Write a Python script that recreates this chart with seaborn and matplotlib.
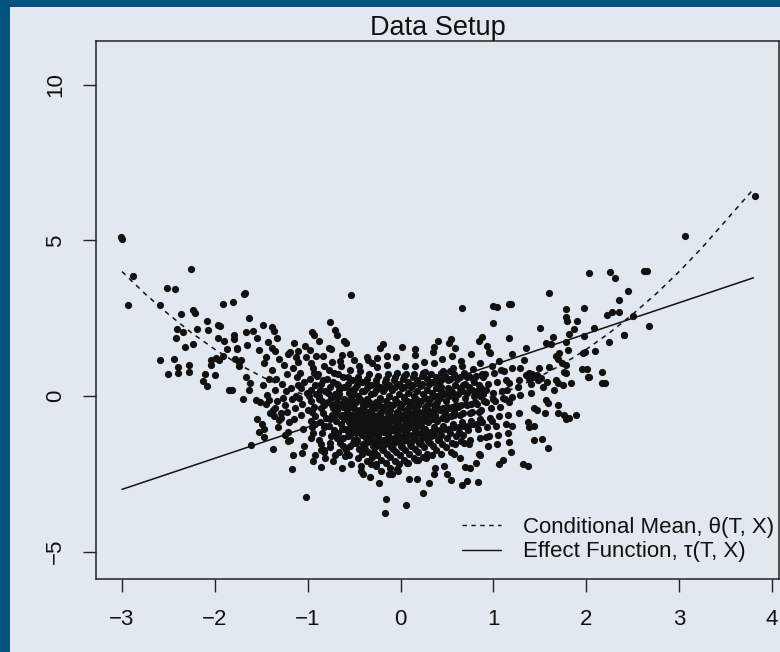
import matplotlib
matplotlib.use("Agg")
import matplotlib.pyplot as plt
from matplotlib.lines import Line2D
from matplotlib.patches import Rectangle
import seaborn as sns
import pandas as pd

# ---------------- data ----------------
left_tail = [
    (-3.01, 5.10), (-3.00, 5.06), (-2.88, 3.86), (-2.94, 2.92), (-2.26, 4.07), (-2.52, 3.47),
    (-2.43, 3.43), (-2.59, 2.92), (-2.37, 2.63), (-2.24, 2.76), (-2.21, 2.66), (-2.41, 2.15),
    (-2.34, 2.05), (-2.42, 1.86), (-2.19, 2.15), (-2.09, 2.42), (-2.07, 2.13), (-1.97, 2.29),
    (-1.95, 2.25), (-2.32, 1.59), (-2.24, 1.66), (-1.97, 1.86), (-1.90, 1.76), (-1.91, 2.97),
    (-1.80, 3.02), (-1.79, 1.96), (-1.79, 1.83), (-1.87, 1.50), (-1.76, 1.50), (-2.59, 1.17),
    (-2.44, 1.20), (-2.40, 0.92), (-2.40, 0.73), (-2.51, 0.72), (-2.28, 0.99), (-2.28, 0.76),
    (-2.04, 1.16), (-2.04, 1.00), (-1.99, 1.22), (-1.96, 1.16), (-1.91, 1.30), (-2.11, 0.70),
    (-2.00, 0.68), (-2.13, 0.48), (-2.08, 0.33), (-1.85, 0.20), (-1.82, 0.20), (-1.78, 1.18),
    (-1.74, 1.10), (-1.69, 3.28),
]

upper_left = [
    (-1.68, 3.30), (-0.53, 3.25), (-1.63, 2.52), (-1.66, 2.07), (-1.59, 2.10), (-1.48, 2.28),
    (-1.38, 2.21), (-1.36, 2.09), (-1.55, 1.85), (-1.65, 1.64), (-1.76, 1.53), (-1.72, 1.16),
    (-1.74, 0.97), (-1.43, 1.75), (-1.33, 1.85), (-1.52, 1.48), (-1.35, 1.45), (-1.45, 1.26),
    (-1.15, 1.69), (-1.19, 1.42), (-1.11, 1.45), (-1.13, 1.26), (-0.98, 1.48), (-0.88, 1.78),
    (-0.77, 1.53), (-0.95, 2.07), (-0.93, 1.96), (-0.76, 2.37), (-0.71, 2.12), (-0.68, 1.96),
    (-0.61, 1.78), (-0.59, 1.71), (-0.63, 1.32), (-0.50, 1.16), (-0.36, 1.24), (-0.31, 1.05),
]

lower_left = [
    (-1.55, -0.75), (-1.53, -1.17), (-1.47, -1.06), (-1.47, -1.31), (-1.61, -1.58), (-1.37, -1.70),
    (-1.21, -1.44), (-1.17, -2.33), (-1.06, -1.84), (-1.02, -3.24), (-0.86, -2.27), (-0.92, -1.90),
    (-0.86, -1.74), (-0.82, -1.79), (-0.71, -1.90), (-0.60, -1.93), (-0.40, -2.49), (-0.43, -2.25),
    (-1.70, -0.10), (-1.63, 0.19), (-1.62, 0.41), (-1.67, 0.62), (-1.56, -0.13), (-1.51, -0.18),
    (-1.42, -0.13), (-1.35, -0.40), (-1.31, -0.77), (-1.29, -0.72), (-1.21, -1.15), (-1.22, -0.50),
]

mid_edges = [
    (0.66, 2.84), (1.00, 2.89), (1.04, 2.85), (0.99, 2.34), (1.17, 2.95),
    (-0.19, 1.67), (-0.22, 1.53), (0.01, 1.58), (0.16, 1.50), (0.36, 1.58), (0.40, 1.78),
    (0.54, 1.82), (0.52, 1.71), (0.59, 1.53), (0.84, 1.78), (0.88, 1.89), (0.93, 1.61), (0.95, 1.42),
    (-0.16, -3.32), (-0.17, -3.77), (0.06, -3.50), (0.24, -3.13), (0.31, -2.79), (0.09, -2.68),
    (0.18, -2.68), (0.54, -2.70), (0.66, -2.86), (0.72, -2.72), (0.83, -2.75), (1.06, -2.19),
    (1.10, -2.06), (0.92, -1.31), (0.81, -2.16), (0.69, -2.27), (0.36, -2.49), (0.50, -2.49),
    (-0.26, -2.25), (-0.09, -2.49), (-0.04, -2.33),
]

right_tail = [
    (2.03, 3.94), (2.26, 4.00), (2.31, 3.78), (2.62, 4.03), (2.45, 3.39), (1.60, 3.30), (1.19, 2.95),
    (2.35, 3.09), (2.28, 2.71), (2.35, 2.71), (2.22, 2.60), (2.50, 2.58),
    (1.78, 2.80), (1.98, 2.84), (1.78, 2.55), (1.79, 2.42), (1.90, 2.42), (1.87, 2.15), (1.81, 1.99),
    (2.08, 2.18), (1.98, 1.93), (1.78, 1.75), (1.50, 2.20), (1.17, 1.87), (1.64, 1.89), (1.57, 1.71),
    (1.62, 1.67), (1.35, 1.53), (1.20, 1.35), (2.41, 1.96), (2.24, 1.73), (2.09, 1.45), (1.99, 1.42),
    (1.96, 1.37), (1.67, 1.29), (1.71, 1.39), (1.69, 1.18), (1.80, 1.48), (1.74, 1.05), (1.78, 1.00),
    (1.76, 0.78), (1.78, 0.73), (1.83, 0.41), (1.75, 0.35), (1.67, 0.51), (1.69, 0.43), (1.65, 0.19),
    (1.95, 0.86), (2.01, 0.86), (2.03, 0.62), (2.17, 0.78), (2.17, 0.41), (2.20, 0.43),
    (1.57, -0.13), (1.59, -0.21), (1.69, -0.29), (1.70, -0.56), (1.76, -0.61), (1.78, -0.75),
    (1.81, -0.72), (1.89, -0.61), (1.55, -0.54), (1.44, -0.40), (1.47, -0.45), (1.28, -0.56),
    (1.37, -0.82), (1.38, -0.99), (1.44, -0.96), (1.20, -0.96), (1.16, -1.20), (1.17, -1.47),
    (1.19, -1.79), (1.44, -1.41), (1.52, -1.38), (1.59, -1.68), (1.32, -2.19), (1.37, -2.25),
    (1.38, 0.55), (1.42, 0.70), (1.45, 0.62), (1.48, 0.50), (1.40, 0.40), (1.35, 0.68),
    (1.33, 1.16), (1.29, 0.89), (1.20, 0.89), (1.38, 0.73), (1.42, 0.62), (1.47, 0.68), (1.51, 0.57),
    (1.27, 0.51), (1.26, 0.30), (1.17, 0.41), (1.20, -0.02), (1.17, -0.18), (1.29, 0.03), (1.40, 0.09),
    (1.53, 0.30), (1.60, 0.94), (1.49, 0.89), (1.58, 0.46),
    (3.82, 6.43), (3.06, 5.14), (2.65, 4.02), (2.68, 2.25), (2.41, 1.96), (2.02, 0.60),
]

core_left = [
    (-1.48, 0.35), (-1.45, -0.25), (-1.42, 0.55), (-1.47, 1.05), (-1.41, -0.55), (-1.44, 0.02), (-1.49, -0.9),
    (-1.38, 0.85), (-1.35, 0.2), (-1.33, -0.15), (-1.31, 1.2), (-1.37, -0.45), (-1.34, 0.55), (-1.32, -1.0),
    (-1.39, 1.55), (-1.36, -0.65), (-1.28, 0.4), (-1.26, 1.0), (-1.24, -0.3), (-1.22, 0.7), (-1.27, -0.05),
    (-1.21, 1.35), (-1.25, -1.25), (-1.23, 0.15), (-1.29, -0.55), (-1.2, -0.85), (-1.18, 0.25), (-1.16, 0.9),
    (-1.14, -0.4), (-1.12, 0.6), (-1.17, -0.1), (-1.11, 1.1), (-1.15, -0.75), (-1.13, 0.0), (-1.19, -1.4),
    (-1.1, 0.35), (-1.16, -1.9), (-1.08, 0.75), (-1.06, -0.25), (-1.04, 0.45), (-1.02, 1.25), (-1.07, -0.6),
    (-1.01, 0.1), (-1.05, -1.05), (-1.03, 1.6), (-1.09, -0.05), (-1.0, -0.45), (-1.04, -1.6), (-1.07, 0.25),
    (-0.98, 0.55), (-0.96, -0.15), (-0.94, 0.9), (-0.92, -0.65), (-0.97, 0.2), (-0.91, 1.3), (-0.95, -1.0),
    (-0.93, -0.35), (-0.99, 0.0), (-0.9, 0.65), (-0.96, -1.35), (-0.92, -0.9), (-0.94, -2.1), (-0.97, 1.05),
    (-0.88, -0.1), (-0.86, 0.4), (-0.84, -0.55), (-0.82, 0.95), (-0.87, -0.85), (-0.81, 0.15), (-0.85, -1.2),
    (-0.83, -0.3), (-0.89, 0.7), (-0.8, -0.7), (-0.86, -1.55), (-0.84, 1.3), (-0.82, -1.0), (-0.88, 0.0),
    (-0.81, -2.0), (-0.78, -0.2), (-0.76, 0.3), (-0.74, -0.6), (-0.72, 0.75), (-0.77, -0.95), (-0.71, 0.05),
    (-0.75, -1.3), (-0.73, -0.4), (-0.79, 0.55), (-0.7, -0.8), (-0.76, -1.65), (-0.74, 1.1), (-0.72, -1.1),
    (-0.78, 0.1), (-0.71, -0.25), (-0.75, 1.5), (-0.73, -2.1),
]

core_mid = [
    (-0.68, -0.45), (-0.66, 0.2), (-0.64, -0.9), (-0.62, 0.6), (-0.67, -1.2), (-0.61, -0.1), (-0.65, -1.5),
    (-0.63, -0.6), (-0.69, 0.4), (-0.6, -0.3), (-0.66, -1.8), (-0.64, 0.95), (-0.62, -1.35), (-0.68, -0.05),
    (-0.61, -0.75), (-0.65, 1.12), (-0.63, -2.3), (-0.67, 0.7), (-0.6, -1.05),
    (-0.58, -0.5), (-0.56, 0.1), (-0.54, -1.0), (-0.52, 0.5), (-0.57, -1.3), (-0.51, -0.2), (-0.55, -1.6),
    (-0.53, -0.7), (-0.59, 0.3), (-0.5, -0.4), (-0.56, -1.9), (-0.54, 0.85), (-0.52, -1.15), (-0.58, -0.15),
    (-0.51, -0.85), (-0.55, 1.35), (-0.53, -2.2), (-0.57, 0.6), (-0.5, -1.4), (-0.56, -0.6), (-0.52, 0.2),
    (-0.48, -0.6), (-0.46, 0.0), (-0.44, -1.1), (-0.42, 0.45), (-0.47, -1.4), (-0.41, -0.3), (-0.45, -1.7),
    (-0.43, -0.8), (-0.49, 0.25), (-0.4, -0.5), (-0.46, -2.0), (-0.44, 0.8), (-0.42, -1.25), (-0.48, -0.2),
    (-0.41, -0.95), (-0.45, 0.98), (-0.43, -2.4), (-0.47, 0.55), (-0.4, -1.55), (-0.46, -0.7), (-0.42, 0.15),
    (-0.44, -0.45), (-0.48, -1.0),
    (-0.38, -0.7), (-0.36, -0.1), (-0.34, -1.2), (-0.32, 0.35), (-0.37, -1.5), (-0.31, -0.4), (-0.35, -1.8),
    (-0.33, -0.9), (-0.39, 0.15), (-0.3, -0.6), (-0.36, -2.1), (-0.34, 0.7), (-0.32, -1.3), (-0.38, -0.3),
    (-0.31, -1.0), (-0.35, 1.15), (-0.33, -2.6), (-0.37, 0.45), (-0.3, -1.6), (-0.36, -0.8), (-0.32, 0.05),
    (-0.34, -0.5), (-0.38, -1.1), (-0.31, -1.95),
    (-0.28, -0.8), (-0.26, -0.2), (-0.24, -1.3), (-0.22, 0.3), (-0.27, -1.6), (-0.21, -0.5), (-0.25, -1.9),
    (-0.23, -1.0), (-0.29, 0.1), (-0.2, -0.7), (-0.26, -2.2), (-0.24, 0.65), (-0.22, -1.4), (-0.28, -0.4),
    (-0.21, -1.1), (-0.25, 0.92), (-0.23, -2.8), (-0.27, 0.4), (-0.2, -1.7), (-0.26, -0.9), (-0.22, -0.05),
    (-0.24, -0.6), (-0.28, -1.2), (-0.21, -2.05), (-0.25, 1.22),
    (-0.18, -0.75), (-0.16, -0.15), (-0.14, -1.25), (-0.12, 0.35), (-0.17, -1.55), (-0.11, -0.45),
    (-0.15, -1.85), (-0.13, -0.95), (-0.19, 0.15), (-0.1, -0.65), (-0.16, -2.15), (-0.14, 0.7),
    (-0.12, -1.35), (-0.18, -0.35), (-0.11, -1.05), (-0.15, 1.0), (-0.13, -2.5), (-0.17, 0.45),
    (-0.1, -1.65), (-0.16, -0.85), (-0.12, 0.0), (-0.14, -0.55), (-0.18, -1.15), (-0.11, -1.95), (-0.15, 1.28),
    (-0.08, -0.7), (-0.06, -0.1), (-0.04, -1.2), (-0.02, 0.4), (-0.07, -1.5), (-0.01, -0.4), (-0.05, -1.8),
    (-0.03, -0.9), (-0.09, 0.2), (0.0, -0.6), (-0.06, -2.1), (-0.04, 0.75), (-0.02, -1.3), (-0.08, -0.3),
    (-0.01, -1.0), (-0.05, 1.25), (-0.03, -2.4), (-0.07, 0.5), (0.0, -1.6), (-0.06, -0.8), (-0.02, 0.05),
    (-0.04, -0.5), (-0.08, -1.1), (-0.01, -1.9),
]

core_right = [
    (0.02, -0.65), (0.04, -0.05), (0.06, -1.15), (0.08, 0.45), (0.03, -1.45), (0.09, -0.35), (0.05, -1.75),
    (0.07, -0.85), (0.01, 0.25), (0.1, -0.55), (0.04, -2.05), (0.06, 0.7), (0.08, -1.25), (0.02, -0.25),
    (0.09, -0.95), (0.05, 0.95), (0.07, -2.15), (0.03, 0.55), (0.1, -1.55), (0.04, -0.75), (0.08, 0.1),
    (0.06, -0.45), (0.02, -1.05), (0.09, -1.85),
    (0.12, -0.6), (0.14, 0.0), (0.16, -1.1), (0.18, 0.5), (0.13, -1.4), (0.19, -0.3), (0.15, -1.7),
    (0.17, -0.8), (0.11, 0.3), (0.2, -0.5), (0.14, -2.0), (0.16, 0.95), (0.18, -1.2), (0.12, -0.2),
    (0.19, -0.9), (0.15, 1.32), (0.17, -2.05), (0.13, 0.6), (0.2, -1.5), (0.14, -0.7), (0.18, 0.15),
    (0.16, -0.4), (0.12, -1.0), (0.19, -1.8),
    (0.22, -0.55), (0.24, 0.05), (0.26, -1.05), (0.28, 0.55), (0.23, -1.35), (0.29, -0.25), (0.25, -1.65),
    (0.27, -0.75), (0.21, 0.35), (0.3, -0.45), (0.24, -1.95), (0.26, 0.78), (0.28, -1.15), (0.22, -0.15),
    (0.29, -0.85), (0.25, 1.08), (0.27, -1.98), (0.23, 0.65), (0.3, -1.45), (0.24, -0.65), (0.28, 0.2),
    (0.26, -0.35), (0.22, -0.95),
    (0.32, -0.5), (0.34, 0.1), (0.36, -1.0), (0.38, 0.6), (0.33, -1.3), (0.39, -0.2), (0.35, -1.6),
    (0.37, -0.7), (0.31, 0.4), (0.4, -0.4), (0.34, -1.9), (0.36, 1.05), (0.38, -1.1), (0.32, -0.1),
    (0.39, -0.8), (0.35, 1.42), (0.37, -2.3), (0.33, 0.7), (0.4, -1.4), (0.34, -0.6), (0.38, 0.25), (0.36, -0.3),
    (0.42, -0.45), (0.44, 0.15), (0.46, -0.95), (0.48, 0.65), (0.43, -1.25), (0.49, -0.15), (0.45, -1.55),
    (0.47, -0.65), (0.41, 0.45), (0.5, -0.35), (0.44, -1.85), (0.46, 0.82), (0.48, -1.05), (0.42, -0.05),
    (0.49, -0.75), (0.45, 1.18), (0.47, -2.25), (0.43, 0.75), (0.5, -1.35), (0.44, 0.3),
    (0.52, -0.4), (0.54, 0.2), (0.56, -0.9), (0.58, 0.7), (0.53, -1.2), (0.59, -0.1), (0.55, -1.5),
    (0.57, -0.6), (0.51, 0.5), (0.6, -0.3), (0.54, -1.8), (0.56, 0.9), (0.58, -1.0), (0.52, 0.0),
    (0.59, 0.35), (0.55, 1.28), (0.57, -1.85), (0.53, 0.8), (0.6, -1.3),
    (0.62, -0.35), (0.64, 0.25), (0.66, -0.85), (0.68, 0.75), (0.63, -1.15), (0.69, -0.05), (0.65, -1.45),
    (0.67, -0.55), (0.61, 0.55), (0.7, -0.25), (0.64, -2.0), (0.66, 0.98), (0.68, -0.95), (0.62, 0.05),
    (0.69, 0.4), (0.65, 1.12), (0.67, -1.25),
    (0.72, -0.3), (0.74, 0.3), (0.76, -0.8), (0.78, 0.88), (0.73, -1.1), (0.79, 0.0), (0.75, -1.4),
    (0.77, -0.5), (0.71, 0.6), (0.8, -0.2), (0.74, -1.55), (0.76, 1.35), (0.78, -0.9), (0.72, 0.1),
    (0.79, 0.45), (0.75, -2.3),
    (0.82, -0.25), (0.84, 0.35), (0.86, -0.75), (0.88, 0.7), (0.83, -1.05), (0.89, 0.05), (0.85, -1.35),
    (0.87, -0.45), (0.81, 0.65), (0.9, -0.15), (0.84, -1.85), (0.86, 1.05), (0.88, -0.85), (0.82, 0.15),
    (0.85, -1.9),
    (0.92, -0.2), (0.94, 0.4), (0.96, -0.7), (0.98, 0.95), (0.93, -1.0), (0.99, 0.1), (0.95, -1.3),
    (0.97, -0.4), (0.91, 0.7), (1.0, -0.1), (0.94, -1.6), (0.96, 1.38), (0.98, -0.8), (0.92, 0.2),
    (1.02, -0.15), (1.04, 0.45), (1.06, -0.65), (1.08, 0.85), (1.03, -0.95), (1.09, 0.15), (1.05, -1.25),
    (1.07, -0.35), (1.01, 0.75), (1.1, -0.05), (1.04, -1.55), (1.06, 1.12),
    (1.12, -0.1), (1.14, 0.5), (1.16, -0.6), (1.13, -0.9), (1.15, 0.2), (1.11, 0.8),
]

core_fill = [
    (-0.955, -0.5), (-0.925, 0.35), (-0.945, -1.2), (-0.915, 0.05), (-0.965, -0.8), (-0.935, 0.75),
    (-0.855, -0.4), (-0.835, 0.5), (-0.875, -1.4), (-0.845, -0.15), (-0.815, -0.95), (-0.865, 0.2), (-0.825, -1.75),
    (-0.745, -0.05), (-0.765, -0.75), (-0.725, 0.45), (-0.755, -1.5), (-0.735, -0.3), (-0.775, 0.85),
    (-0.715, -1.2), (-0.705, -0.55),
    (-0.655, -0.25), (-0.635, -1.05), (-0.675, 0.35), (-0.645, -0.65), (-0.615, -1.6), (-0.665, 0.05),
    (-0.625, -0.35), (-0.685, -1.35), (-0.605, 0.3),
    (-0.555, -0.85), (-0.535, -0.05), (-0.575, -1.1), (-0.545, -0.35), (-0.515, -1.5), (-0.565, 0.4),
    (-0.525, -0.6), (-0.585, -1.75), (-0.505, 0.05), (-0.54, -1.25),
    (-0.455, -0.85), (-0.435, -0.1), (-0.475, -1.2), (-0.445, -0.55), (-0.415, -1.85), (-0.465, 0.35),
    (-0.425, -0.7), (-0.485, -1.5), (-0.405, -0.2), (-0.44, -1.05), (-0.46, 0.6),
    (-0.355, -0.95), (-0.335, -0.2), (-0.375, -1.35), (-0.345, -0.65), (-0.315, -2.2), (-0.365, 0.25),
    (-0.325, -0.8), (-0.385, -1.7), (-0.305, -0.3), (-0.34, -1.45), (-0.36, 0.55), (-0.33, -1.1),
    (-0.255, -1.05), (-0.235, -0.3), (-0.275, -1.45), (-0.245, -0.75), (-0.215, -2.4), (-0.265, 0.2),
    (-0.225, -0.9), (-0.285, -1.8), (-0.205, -0.35), (-0.24, -1.55), (-0.26, 0.5), (-0.23, -1.2),
    (-0.155, -1.0), (-0.135, -0.25), (-0.175, -1.4), (-0.145, -0.7), (-0.115, -2.3), (-0.165, 0.25),
    (-0.125, -0.85), (-0.185, -1.75), (-0.105, -0.3), (-0.14, -1.5), (-0.16, 0.55), (-0.13, -1.15),
    (-0.055, -0.95), (-0.035, -0.2), (-0.075, -1.35), (-0.045, -0.65), (-0.015, -2.2), (-0.065, 0.3),
    (-0.025, -0.8), (-0.085, -1.7), (-0.005, -0.25), (-0.04, -1.45), (-0.06, 0.6), (-0.03, -1.1),
    (0.045, -0.9), (0.065, -0.15), (0.025, -1.3), (0.055, -0.6), (0.085, -2.15), (0.035, 0.3),
    (0.075, -0.75), (0.015, -1.65), (0.095, -0.2), (0.06, -1.4), (0.04, 0.65), (0.07, -1.05),
    (0.145, -0.85), (0.165, -0.1), (0.125, -1.25), (0.155, -0.55), (0.185, -2.05), (0.135, 0.35),
    (0.175, -0.7), (0.115, -1.6), (0.195, -0.15), (0.16, -1.35), (0.14, 0.7), (0.17, -1.0),
    (0.245, -0.8), (0.265, -0.05), (0.225, -1.2), (0.255, -0.5), (0.285, -1.85), (0.235, 0.4),
    (0.275, -0.65), (0.215, -1.55), (0.295, -0.1), (0.26, -1.3), (0.24, 0.75),
    (0.345, -0.75), (0.365, 0.0), (0.325, -1.15), (0.355, -0.45), (0.385, -1.75), (0.335, 0.45),
    (0.375, -0.6), (0.315, -1.5), (0.395, 0.0), (0.36, -1.25),
    (0.445, -0.7), (0.465, 0.05), (0.425, -1.1), (0.455, -0.4), (0.485, -1.65), (0.435, 0.5),
    (0.475, -0.55), (0.415, -1.4), (0.495, 0.1),
    (0.545, -0.65), (0.565, 0.1), (0.525, -1.05), (0.555, -0.35), (0.585, -1.55), (0.535, 0.55),
    (0.575, -0.5), (0.515, 0.25),
    (0.645, -0.6), (0.665, 0.15), (0.625, -1.0), (0.655, -0.3), (0.685, -1.5), (0.635, 0.6), (0.675, 0.35),
    (0.745, -0.55), (0.765, 0.2), (0.725, -0.95), (0.755, -0.25), (0.785, 0.55), (0.735, 0.65),
    (0.845, -0.5), (0.865, 0.25), (0.825, -0.9), (0.855, 0.0), (0.885, 0.6),
]

theta_x = [-3.0, -2.75, -2.5, -2.25, -2.0, -1.75, -1.5, -1.25, -1.0, -0.75, -0.5, -0.25, 0.0,
           0.25, 0.5, 0.75, 1.0, 1.25, 1.5, 1.75, 2.0, 2.25, 2.5, 2.75, 3.0, 3.25, 3.5, 3.8]
theta_y = [4.00, 3.28, 2.63, 2.03, 1.50, 1.03, 0.63, 0.28, 0.00, -0.22, -0.38, -0.47, -0.50,
           -0.47, -0.38, -0.22, 0.00, 0.28, 0.63, 1.03, 1.50, 2.03, 2.63, 3.28, 4.00, 4.78, 5.63, 6.65]
tau_x = [-3.0, 3.8]
tau_y = [-3.0, 3.8]

x_ticks = [-3, -2, -1, 0, 1, 2, 3, 4]
y_ticks = [-5, 0, 5, 10]
title = "Data Setup"
legend_labels = ["Conditional Mean, θ(T, X)", "Effect Function, τ(T, X)"]

# ---------------- styling ----------------
FRAME = "#02527f"
PANEL = "#e1e8f0"
INK = "#111111"

sns.set_style("white")
plt.rcParams["font.family"] = ["Liberation Sans", "DejaVu Sans"]
plt.rcParams["axes.unicode_minus"] = True

fig = plt.figure(figsize=(7.8, 6.52), dpi=100, facecolor=FRAME)
fig.patches.append(Rectangle((10 / 780, 0), 770 / 780, 645 / 652, transform=fig.transFigure,
                             facecolor=PANEL, edgecolor="none", zorder=-10))

ax = fig.add_axes([96 / 780, (652 - 579) / 652, (779 - 96) / 780, (579 - 41) / 652])
ax.set_facecolor(PANEL)
ax.set_zorder(5)

pts = (left_tail + upper_left + lower_left + mid_edges + right_tail
       + core_left + core_mid + core_right + core_fill)
df = pd.DataFrame(pts, columns=["T", "Y"])

sns.scatterplot(data=df, x="T", y="Y", ax=ax, color=INK, s=27, linewidth=0, legend=False, zorder=3)
sns.lineplot(x=theta_x, y=theta_y, ax=ax, color=INK, linewidth=1.1, linestyle=(0, (3.2, 3.2)),
             sort=False, estimator=None, zorder=4)
sns.lineplot(x=tau_x, y=tau_y, ax=ax, color=INK, linewidth=1.1, sort=False, estimator=None, zorder=4)

ax.set_xlim(-3.28, 4.075)
ax.set_ylim(-5.88, 11.41)
ax.set_xticks(x_ticks)
ax.set_yticks(y_ticks)
ax.set_xticklabels([f"{t}".replace("-", "\u2212") for t in x_ticks])
ax.set_yticklabels([f"{t}".replace("-", "\u2212") for t in y_ticks], rotation=90, va="center")
ax.set_xlabel("")
ax.set_ylabel("")
for sp in ax.spines.values():
    sp.set_visible(True)
    sp.set_color("#222222")
    sp.set_linewidth(1.1)
ax.tick_params(axis="both", direction="out", length=9.5, width=1.0, color="#222222",
               labelsize=16, labelcolor=INK, bottom=True, left=True)
ax.tick_params(axis="x", pad=12)
ax.tick_params(axis="y", pad=12)

ax.set_title(title, fontsize=19.5, color=INK, pad=4)

handles = [Line2D([], [], color=INK, lw=1.0, linestyle=(0, (3.2, 3.2))),
           Line2D([], [], color=INK, lw=1.0)]
leg = ax.legend(handles, legend_labels, loc="center left", bbox_to_anchor=(462 / 780, (652 - 539.5) / 652),
                bbox_transform=fig.transFigure, frameon=False, fontsize=16, handlelength=1.75,
                handletextpad=1.0, labelspacing=0.18, borderpad=0, borderaxespad=0)
for t in leg.get_texts():
    t.set_color(INK)

fig.savefig("out.png", dpi=100, facecolor=FRAME)
